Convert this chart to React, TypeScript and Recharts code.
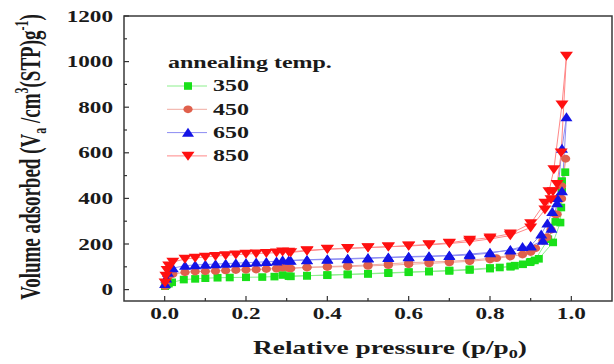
import React from "react";
import { LineChart, Line, XAxis, YAxis, ReferenceArea } from "recharts";

// relative pressure / volume adsorbed, adsorption branch then desorption branch
const p350 = [0.001, 0.004, 0.01, 0.018, 0.047, 0.075, 0.1, 0.13, 0.16, 0.2, 0.24, 0.27, 0.29, 0.31, 0.35, 0.4, 0.45, 0.5, 0.55, 0.6, 0.65, 0.7, 0.75, 0.8, 0.824, 0.851, 0.861, 0.881, 0.898, 0.91, 0.943, 0.961, 0.975, 0.985, 0.977, 0.977, 0.973, 0.955, 0.92, 0.9, 0.85, 0.8, 0.75, 0.7, 0.65, 0.6, 0.55, 0.5, 0.45, 0.4, 0.35, 0.305];
const v350 = [15, 20, 26, 32, 44, 47, 50, 52, 53, 54, 55, 57, 64, 58, 61, 63, 66, 69, 72, 76, 79, 82, 86, 92, 97, 101, 105, 111, 120, 128, 221, 297, 360, 515, 476, 432, 294, 207, 135, 122, 101, 95, 89, 84, 80, 77, 74, 70, 67, 64, 61, 59];

const p450 = [0.001, 0.004, 0.008, 0.02, 0.05, 0.075, 0.1, 0.125, 0.15, 0.175, 0.2, 0.225, 0.25, 0.275, 0.29, 0.31, 0.35, 0.4, 0.45, 0.5, 0.55, 0.6, 0.65, 0.7, 0.75, 0.8, 0.816, 0.85, 0.88, 0.9, 0.912, 0.93, 0.95, 0.965, 0.976, 0.986, 0.976, 0.96, 0.94, 0.9, 0.85, 0.8, 0.75, 0.7, 0.65, 0.6, 0.55, 0.5, 0.45, 0.4, 0.35, 0.305];
const v450 = [15, 35, 55, 68, 76, 79, 80, 82, 84, 86, 87, 88, 90, 92, 96, 93, 97, 99, 101, 104, 107, 111, 115, 119, 124, 132, 138, 145, 154, 165, 181, 214, 262, 330, 399, 574, 454, 330, 230, 172, 150, 137, 129, 124, 121, 118, 113, 108, 104, 101, 98, 94];

const p650 = [0.001, 0.004, 0.008, 0.02, 0.05, 0.075, 0.1, 0.125, 0.15, 0.175, 0.2, 0.225, 0.25, 0.275, 0.29, 0.31, 0.35, 0.4, 0.45, 0.5, 0.55, 0.6, 0.65, 0.7, 0.75, 0.8, 0.85, 0.88, 0.9, 0.926, 0.941, 0.953, 0.965, 0.977, 0.988, 0.977, 0.965, 0.951, 0.93, 0.9, 0.85, 0.8, 0.75, 0.7, 0.65, 0.6, 0.55, 0.5, 0.45, 0.4, 0.35, 0.305];
const v650 = [25, 50, 75, 94, 105, 108, 110, 112, 114, 116, 118, 120, 122, 124, 130, 127, 130, 132, 134, 137, 140, 143, 145, 148, 152, 160, 175, 188, 192, 243, 291, 341, 403, 619, 757, 432, 380, 268, 215, 190, 172, 163, 156, 150, 147, 145, 142, 139, 136, 134, 131, 128];

const p850 = [0.001, 0.003, 0.006, 0.01, 0.02, 0.05, 0.075, 0.1, 0.125, 0.15, 0.175, 0.2, 0.225, 0.25, 0.275, 0.29, 0.31, 0.35, 0.4, 0.45, 0.5, 0.55, 0.6, 0.65, 0.7, 0.75, 0.8, 0.85, 0.9, 0.935, 0.95, 0.955, 0.965, 0.975, 0.988, 0.977, 0.957, 0.945, 0.935, 0.9, 0.85, 0.8, 0.75, 0.7, 0.65, 0.6, 0.55, 0.5, 0.45, 0.4, 0.35, 0.305];
const v850 = [30, 60, 85, 105, 121, 134, 139, 143, 147, 150, 153, 156, 158, 160, 162, 166, 163, 170, 177, 180, 184, 188, 191, 196, 202, 210, 222, 237, 272, 350, 395, 430, 462, 600, 1025, 811, 527, 430, 380, 290, 245, 228, 218, 205, 198, 193, 188, 185, 182, 178, 172, 165];

const xTicks = [0, 0.1, 0.2, 0.3, 0.4, 0.5, 0.6, 0.7, 0.8, 0.9, 1.0];
const yTicks = [0, 100, 200, 300, 400, 500, 600, 700, 800, 900, 1000, 1100, 1200];

const FONT = '"Liberation Serif", "Times New Roman", serif';
const SX = 1.45; // the original figure is stretched horizontally

const zip = (p: number[], v: number[]) => p.map((x, i) => ({ p: x, v: v[i] }));

const series = [
  { name: "350", color: "#19e019", line: "#8cef8c", shape: "square", data: zip(p350, v350) },
  { name: "450", color: "#e0604c", line: "#f0aaa0", shape: "circle", data: zip(p450, v450) },
  { name: "650", color: "#1414e6", line: "#8c8cf2", shape: "up", data: zip(p650, v650) },
  { name: "850", color: "#ff1010", line: "#ff8888", shape: "down", data: zip(p850, v850) },
];

function marker(shape: string, cx: number, cy: number, color: string, key?: any) {
  if (shape === "square") {
    return <rect key={key} x={cx - 4} y={cy - 3.8} width={8} height={7.6} fill={color} />;
  }
  if (shape === "circle") {
    return <ellipse key={key} cx={cx} cy={cy} rx={4.6} ry={3.9} fill={color} />;
  }
  if (shape === "up") {
    return <path key={key} d={`M${cx - 6},${cy + 4.2}L${cx + 6},${cy + 4.2}L${cx},${cy - 4.8}Z`} fill={color} />;
  }
  return <path key={key} d={`M${cx - 6.5},${cy - 4.2}L${cx + 6.5},${cy - 4.2}L${cx},${cy + 4.8}Z`} fill={color} />;
}

const YTick = (props: any) => {
  const { x, y, payload } = props;
  const v = payload.value;
  const major = v % 200 === 0;
  return (
    <g>
      <line x1={x} x2={x + (major ? 5 : 3)} y1={y} y2={y} stroke="#333" strokeWidth={1.2} />
      {major && (
        <text
          transform={`translate(${x - 11},${y}) scale(${SX},1)`}
          textAnchor="end"
          dominantBaseline="central"
          fontFamily={FONT}
          fontWeight="bold"
          fontSize={16}
          fill="#1a1a1a"
        >
          {v}
        </text>
      )}
    </g>
  );
};

const XTick = (props: any) => {
  const { x, y, payload } = props;
  const v = payload.value;
  const major = Math.round(v * 10) % 2 === 0;
  return (
    <g>
      <line x1={x} x2={x} y1={y} y2={y - (major ? 5 : 3)} stroke="#333" strokeWidth={1.2} />
      {major && (
        <text
          transform={`translate(${x},${y + 12}) scale(${SX},1)`}
          textAnchor="middle"
          dominantBaseline="central"
          fontFamily={FONT}
          fontWeight="bold"
          fontSize={16}
          fill="#1a1a1a"
        >
          {v.toFixed(1)}
        </text>
      )}
    </g>
  );
};

export default function App() {
  return (
    <div style={{ position: "absolute", left: 0, top: 0, width: 614, height: 364, background: "#fff" }}>
      <LineChart width={614} height={364} margin={{ top: 16, right: 2, bottom: 0, left: 0 }}>
        <XAxis
          type="number"
          dataKey="p"
          domain={[-0.1, 1.1]}
          ticks={xTicks}
          interval={0}
          height={63}
          axisLine={false}
          tickLine={false}
          tickSize={0}
          tickMargin={0}
          tick={<XTick />}
        />
        <YAxis
          type="number"
          dataKey="v"
          domain={[-50, 1200]}
          ticks={yTicks}
          interval={0}
          width={124}
          axisLine={false}
          tickLine={false}
          tickSize={0}
          tickMargin={0}
          tick={<YTick />}
        />
        <ReferenceArea x1={-0.1} x2={1.1} y1={-50} y2={1200} fill="none" fillOpacity={0} stroke="#3a3a3a" strokeWidth={1.5} />
        {series.map((s) => (
          <Line
            key={s.name}
            data={s.data}
            dataKey="v"
            type="linear"
            stroke={s.line}
            strokeWidth={1}
            isAnimationActive={false}
            activeDot={false}
            dot={(d: any) => marker(s.shape, d.cx, d.cy, s.color, `${s.name}-${d.index}`)}
          />
        ))}
      </LineChart>
      <svg width={614} height={364} style={{ position: "absolute", left: 0, top: 0, pointerEvents: "none" }}>
        <g fontFamily={FONT} fontWeight="bold" fill="#1a1a1a">
          <text transform={`translate(168,68) scale(1.5,1)`} fontSize={16}>annealing temp.</text>
          {series.map((s, i) => {
            const cy = 86 + i * 23.3;
            return (
              <g key={s.name}>
                <line x1={167} x2={207} y1={cy} y2={cy} stroke={s.line} strokeWidth={1} />
                {marker(s.shape, 188, cy, s.color)}
                <text transform={`translate(213,${cy}) scale(1.5,1)`} fontSize={16} dominantBaseline="central">
                  {s.name}
                </text>
              </g>
            );
          })}
          <text transform={`translate(390,354) scale(1.52,1)`} textAnchor="middle" fontSize={18}>
            Relative pressure (p/p<tspan fontSize={12} dy={4}>0</tspan>
            <tspan dy={-4}>)</tspan>
          </text>
          <text transform={`translate(40,157) scale(1.5,1) rotate(-90)`} textAnchor="middle" fontSize={19}>
            Volume adsorbed (V<tspan fontSize={12} dy={4}>a</tspan>
            <tspan dy={-4}> /cm</tspan>
            <tspan fontSize={12} dy={-8}>3</tspan>
            <tspan dy={8}>(STP)g</tspan>
            <tspan fontSize={12} dy={-8}>-1</tspan>
            <tspan dy={8}>)</tspan>
          </text>
        </g>
      </svg>
    </div>
  );
}
